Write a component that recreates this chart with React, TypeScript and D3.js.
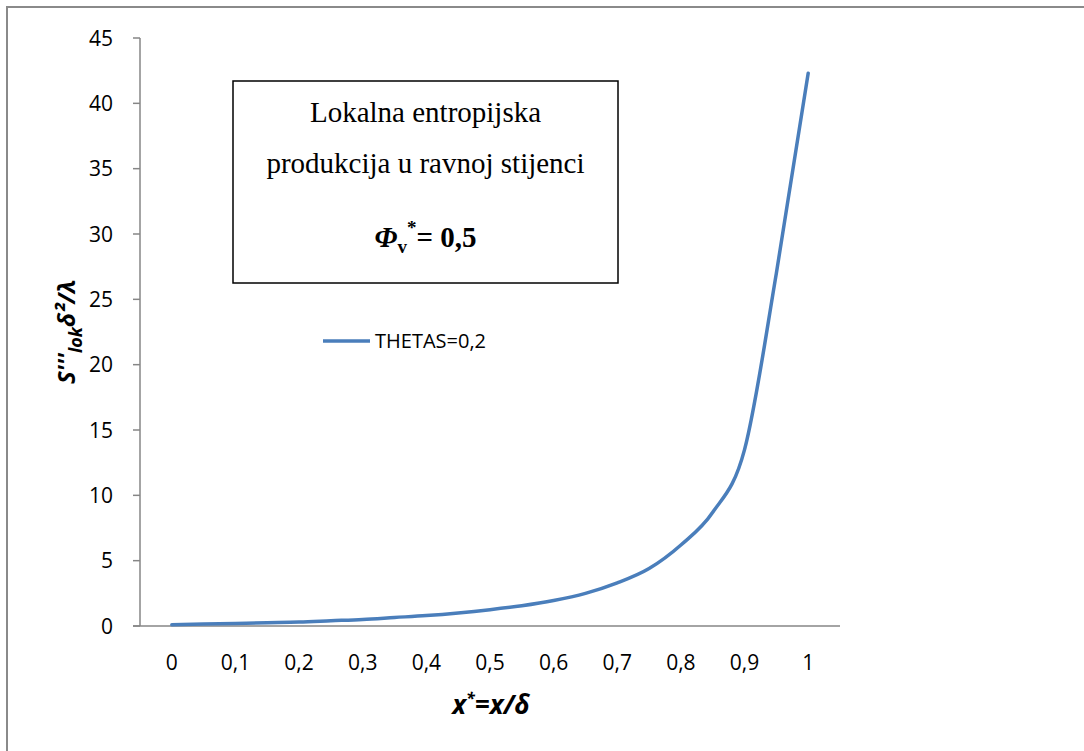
import React from "react";
import * as d3 from "d3";

const xValues = [0, 0.05, 0.1, 0.15, 0.2, 0.25, 0.3, 0.35, 0.4, 0.45, 0.5, 0.55, 0.6, 0.65, 0.7, 0.75, 0.8, 0.85, 0.9, 0.95, 1.0];
const thetas02 = [0.1, 0.15, 0.2, 0.25, 0.3, 0.4, 0.5, 0.65, 0.8, 1.0, 1.25, 1.55, 1.95, 2.5, 3.3, 4.4, 6.2, 8.7, 13.5, 27, 42.3];
const xTicks = [0, 0.1, 0.2, 0.3, 0.4, 0.5, 0.6, 0.7, 0.8, 0.9, 1];
const yTicks = [0, 5, 10, 15, 20, 25, 30, 35, 40, 45];
const seriesName = "THETAS=0,2";

export default function App() {
  const W = 1084, H = 751;
  const left = 140, right = 840, top = 38, bottom = 626;
  const x = d3.scaleLinear().domain([-0.05, 1.05]).range([left, right]);
  const y = d3.scaleLinear().domain([0, 45]).range([bottom, top]);
  const line = d3.line<number>()
    .x((_, i) => x(xValues[i]))
    .y((d) => y(d))
    .curve(d3.curveMonotoneX);
  const fmt = (v: number) => String(v).replace(".", ",");
  const axisColor = "#868686";
  const sans = "'Open Sans', sans-serif";
  const serif = "'Liberation Serif', 'Times New Roman', serif";
  const boxX0 = 233, boxX1 = 618, boxY0 = 81, boxY1 = 283;
  const cx = (boxX0 + boxX1) / 2;
  const legY = 341;
  return (
    <svg width={W} height={H} style={{ position: "absolute", left: 0, top: 0, background: "#fff" }}>
      <rect x={7} y={7} width={W + 20} height={H + 20} fill="none" stroke="#8a8a8a" strokeWidth={2} />
      {/* y axis */}
      <line x1={left} x2={left} y1={top} y2={bottom} stroke={axisColor} strokeWidth={1.5} />
      {yTicks.map((t) => (
        <g key={t}>
          <line x1={left - 7} x2={left} y1={y(t)} y2={y(t)} stroke={axisColor} strokeWidth={1.5} />
          <text x={113} y={y(t)} dy="0.36em" textAnchor="end" fontFamily={sans} fontSize={21} fill="#000">{t}</text>
        </g>
      ))}
      {/* x axis */}
      <line x1={left - 7} x2={right} y1={bottom} y2={bottom} stroke={axisColor} strokeWidth={1.5} />
      {xTicks.map((t) => (
        <text key={t} x={x(t)} y={662} dy="0.36em" textAnchor="middle" fontFamily={sans} fontSize={21} fill="#000">{fmt(t)}</text>
      ))}
      {/* series */}
      <path d={line(thetas02) || ""} fill="none" stroke="#4a7ebb" strokeWidth={3.5} strokeLinecap="round" />
      {/* legend */}
      <line x1={323} x2={370} y1={legY} y2={legY} stroke="#4a7ebb" strokeWidth={3.5} />
      <text x={375} y={legY} dy="0.36em" fontFamily={sans} fontSize={20} fill="#000">{seriesName}</text>
      {/* axis titles */}
      <text x={491} y={714} textAnchor="middle" fontFamily={sans} fontSize={26} fontWeight="bold" fontStyle="italic" fill="#000">
        x<tspan dy={-10} fontSize={16}>*</tspan><tspan dy={10}>=x/δ</tspan>
      </text>
      <text transform={`translate(75,332) rotate(-90)`} textAnchor="middle" fontFamily={sans} fontSize={24} fontWeight="bold" fontStyle="italic" fill="#000">
        S'''<tspan dy={7} fontSize={18}>lok</tspan><tspan dy={-7}>δ²/λ</tspan>
      </text>
      {/* text box */}
      <rect x={boxX0} y={boxY0} width={boxX1 - boxX0} height={boxY1 - boxY0} fill="#fff" stroke="#000" strokeWidth={1.5} />
      <text x={cx} y={122} textAnchor="middle" fontFamily={serif} fontSize={29} fill="#000">Lokalna entropijska</text>
      <text x={cx} y={173} textAnchor="middle" fontFamily={serif} fontSize={29} fill="#000">produkcija u ravnoj stijenci</text>
      <text x={cx} y={247} textAnchor="middle" fontFamily={serif} fontSize={29} fontWeight="bold" fill="#000">
        <tspan fontStyle="italic">Φ</tspan><tspan dy={6} fontSize={19}>v</tspan><tspan dy={-19} fontSize={19}>*</tspan><tspan dy={13}>= 0,5</tspan>
      </text>
    </svg>
  );
}
